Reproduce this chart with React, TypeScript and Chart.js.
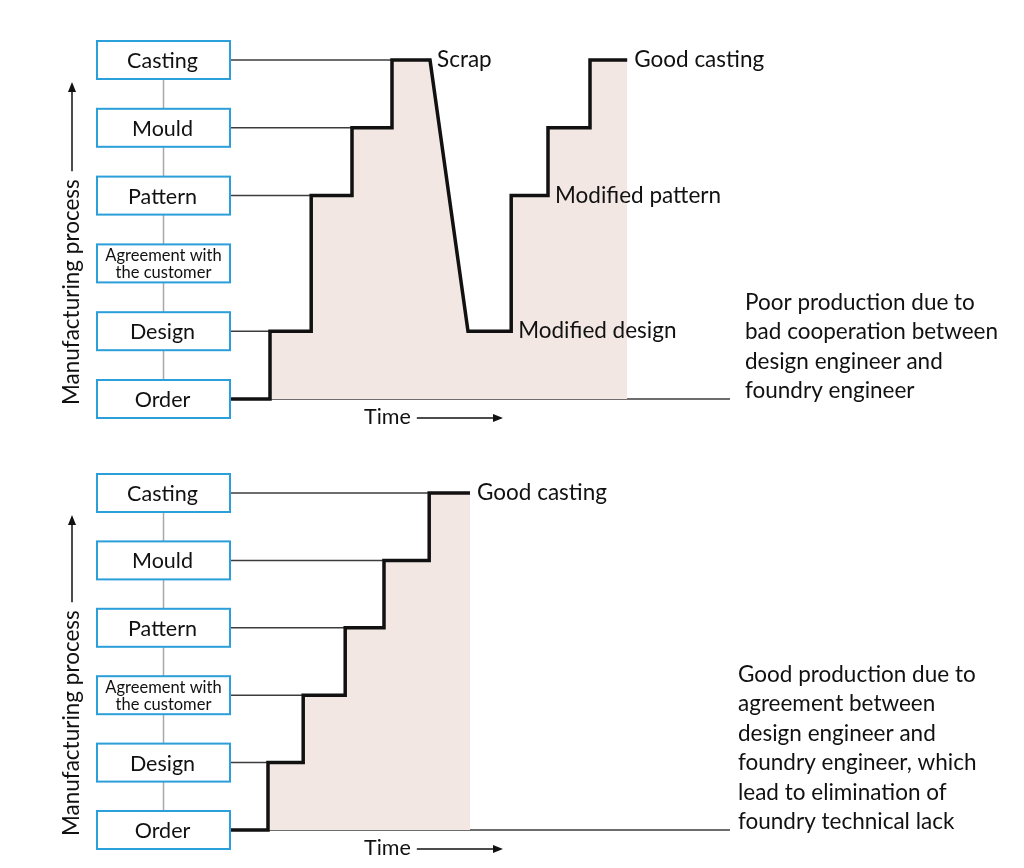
import React, { useEffect, useRef } from 'react';
import { Chart, registerables } from 'chart.js';

Chart.register(...registerables);

// ---------- data ----------
const stageNames = ['Order', 'Design', 'Agreement with\nthe customer', 'Pattern', 'Mould', 'Casting'];
const stageLevels = [0, 1, 2, 3, 4, 5];

// Poor production (top panel)
const poorTimes = [0, 1, 1, 2.03, 2.03, 3.05, 3.05, 4.05, 4.05, 5, 5.95, 7.03, 7.03, 7.95, 7.95, 9, 9, 9.93];
const poorLevels = [0, 0, 1, 1, 3, 3, 4, 4, 5, 5, 1, 1, 3, 3, 4, 4, 5, 5];
const poorLinkLevels = [1, 3, 4, 5];
const poorLinkTimes = [1, 2.03, 3.05, 4.05];
const poorEventLabels = ['Scrap', 'Modified design', 'Modified pattern', 'Good casting'];
const poorEventTimes = [5, 7.03, 7.95, 9.93];
const poorEventLevels = [5, 1, 3, 5];
const poorNote = ['Poor production due to', 'bad cooperation between', 'design engineer and', 'foundry engineer'];

// Good production (bottom panel)
const goodTimes = [0, 0.95, 0.95, 1.83, 1.83, 2.88, 2.88, 3.85, 3.85, 4.98, 4.98, 6];
const goodLevels = [0, 0, 1, 1, 2, 2, 3, 3, 4, 4, 5, 5];
const goodLinkLevels = [1, 2, 3, 4, 5];
const goodLinkTimes = [0.95, 1.83, 2.88, 3.85, 4.98];
const goodEventLabels = ['Good casting'];
const goodEventTimes = [6];
const goodEventLevels = [5];
const goodNote = [
  'Good production due to',
  'agreement between',
  'design engineer and',
  'foundry engineer, which',
  'lead to elimination of',
  'foundry technical lack',
];

const timeMax = 12.5;
const yTitle = 'Manufacturing process';
const xTitle = 'Time';

const FONT = 'Lato, "Open Sans", sans-serif';

type Panel = {
  times: number[];
  levels: number[];
  linkLevels: number[];
  linkTimes: number[];
  eventLabels: string[];
  eventTimes: number[];
  eventLevels: number[];
  note: string[];
  noteX: number;
  padTop: number;
  padBottom: number;
};

function makePlugin(p: Panel) {
  return {
    id: 'diagram',
    afterDraw(chart: any) {
      const { ctx, chartArea, scales } = chart;
      const xs = scales.x;
      const ys = scales.y;
      ctx.save();
      const boxW = 133;
      const boxH = 38;
      const boxR = chartArea.left;
      const boxL = boxR - boxW;
      const boxCx = (boxL + boxR) / 2;

      // vertical connector behind boxes
      ctx.strokeStyle = '#a8a8a8';
      ctx.lineWidth = 1.5;
      ctx.beginPath();
      ctx.moveTo(boxCx, ys.getPixelForValue(stageLevels[stageLevels.length - 1]));
      ctx.lineTo(boxCx, ys.getPixelForValue(stageLevels[0]));
      ctx.stroke();

      // stage boxes
      stageLevels.forEach((lv, i) => {
        const cy = ys.getPixelForValue(lv);
        ctx.fillStyle = '#ffffff';
        ctx.fillRect(boxL, cy - boxH / 2, boxW, boxH);
        ctx.strokeStyle = '#2b9fd9';
        ctx.lineWidth = 2;
        ctx.strokeRect(boxL, cy - boxH / 2, boxW, boxH);
        const lines = stageNames[i].split('\n');
        ctx.fillStyle = '#111111';
        ctx.textAlign = 'center';
        ctx.textBaseline = 'middle';
        if (lines.length === 1) {
          ctx.font = `21.5px ${FONT}`;
          ctx.fillText(lines[0], boxCx - 1, cy + 1);
        } else {
          ctx.font = `16.5px ${FONT}`;
          ctx.fillText(lines[0], boxCx, cy - 8);
          ctx.fillText(lines[1], boxCx, cy + 9);
        }
      });

      // event labels
      ctx.font = `22.5px ${FONT}`;
      ctx.textAlign = 'left';
      ctx.textBaseline = 'middle';
      ctx.fillStyle = '#111111';
      p.eventLabels.forEach((t, i) => {
        ctx.fillText(t, xs.getPixelForValue(p.eventTimes[i]) + 7, ys.getPixelForValue(p.eventLevels[i]));
      });

      // note text
      const base = ys.getPixelForValue(0);
      p.note.forEach((t, i) => {
        ctx.fillText(t, p.noteX, base - 8 - (p.note.length - 1 - i) * 29.5);
      });

      // x title with arrow
      const tx = chartArea.left + 134;
      const ty = base + 18;
      ctx.font = `21.5px ${FONT}`;
      ctx.fillText(xTitle, tx, ty);
      const tw = ctx.measureText(xTitle).width;
      ctx.strokeStyle = '#111111';
      ctx.lineWidth = 1.5;
      ctx.beginPath();
      ctx.moveTo(tx + tw + 6, ty + 1);
      ctx.lineTo(chartArea.left + 266, ty + 1);
      ctx.stroke();
      ctx.fillStyle = '#111111';
      ctx.beginPath();
      ctx.moveTo(chartArea.left + 273, ty + 1);
      ctx.lineTo(chartArea.left + 263, ty - 3);
      ctx.lineTo(chartArea.left + 263, ty + 5);
      ctx.closePath();
      ctx.fill();

      // y title with arrow
      const yx = 72;
      const yStart = base + 6;
      ctx.save();
      ctx.translate(yx, yStart);
      ctx.rotate(-Math.PI / 2);
      ctx.font = `22.5px ${FONT}`;
      ctx.textAlign = 'left';
      ctx.textBaseline = 'middle';
      ctx.fillText(yTitle, 0, 0);
      const yw = ctx.measureText(yTitle).width;
      ctx.restore();
      const tipY = ys.getPixelForValue(5) + 22;
      ctx.beginPath();
      ctx.moveTo(yx, yStart - yw - 8);
      ctx.lineTo(yx, tipY + 8);
      ctx.stroke();
      ctx.beginPath();
      ctx.moveTo(yx, tipY);
      ctx.lineTo(yx - 4, tipY + 10);
      ctx.lineTo(yx + 4, tipY + 10);
      ctx.closePath();
      ctx.fill();

      ctx.restore();
    },
  };
}

function PanelChart({ panel }: { panel: Panel }) {
  const ref = useRef<HTMLCanvasElement>(null);
  useEffect(() => {
    if (!ref.current) return;
    const stepData = panel.times.map((t, i) => ({ x: t, y: panel.levels[i] }));
    const links = panel.linkLevels.map((lv, i) => ({
      data: [
        { x: 0, y: lv },
        { x: panel.linkTimes[i], y: lv },
      ],
      borderColor: '#3c3c3c',
      borderWidth: 1.5,
      pointRadius: 0,
      fill: false,
      order: 2,
      clip: false,
    }));
    const chart = new Chart(ref.current, {
      type: 'line',
      data: {
        datasets: [
          {
            data: stepData,
            borderColor: '#111111',
            borderWidth: 3.5,
            backgroundColor: '#f2e7e2',
            fill: 'origin',
            pointRadius: 0,
            tension: 0,
            borderJoinStyle: 'miter',
            borderCapStyle: 'butt',
            order: 0,
            clip: false,
          } as any,
          {
            data: [
              { x: 0, y: 0 },
              { x: timeMax, y: 0 },
            ],
            borderColor: '#3c3c3c',
            borderWidth: 1.5,
            pointRadius: 0,
            fill: false,
            order: 1,
            clip: false,
          } as any,
          ...(links as any[]),
        ],
      },
      options: {
        responsive: false,
        animation: false,
        events: [],
        layout: {
          padding: { left: 230, right: 294, top: panel.padTop, bottom: panel.padBottom },
        },
        scales: {
          x: { type: 'linear', min: 0, max: timeMax, display: false },
          y: { type: 'linear', min: 0, max: 5, display: false },
        },
        plugins: {
          legend: { display: false },
          tooltip: { enabled: false },
        },
      },
      plugins: [makePlugin(panel)],
    });
    return () => chart.destroy();
  }, [panel]);
  return <canvas ref={ref} width={1024} height={434} style={{ display: 'block' }} />;
}

const poorPanel: Panel = {
  times: poorTimes,
  levels: poorLevels,
  linkLevels: poorLinkLevels,
  linkTimes: poorLinkTimes,
  eventLabels: poorEventLabels,
  eventTimes: poorEventTimes,
  eventLevels: poorEventLevels,
  note: poorNote,
  noteX: 745,
  padTop: 60,
  padBottom: 35,
};

const goodPanel: Panel = {
  times: goodTimes,
  levels: goodLevels,
  linkLevels: goodLinkLevels,
  linkTimes: goodLinkTimes,
  eventLabels: goodEventLabels,
  eventTimes: goodEventTimes,
  eventLevels: goodEventLevels,
  note: goodNote,
  noteX: 738,
  padTop: 59,
  padBottom: 38,
};

export default function App() {
  return (
    <div style={{ position: 'absolute', left: 0, top: 0, width: 1024, height: 868, background: '#fff' }}>
      <div style={{ position: 'absolute', left: 0, top: 0 }}>
        <PanelChart panel={poorPanel} />
      </div>
      <div style={{ position: 'absolute', left: 0, top: 434 }}>
        <PanelChart panel={goodPanel} />
      </div>
    </div>
  );
}
